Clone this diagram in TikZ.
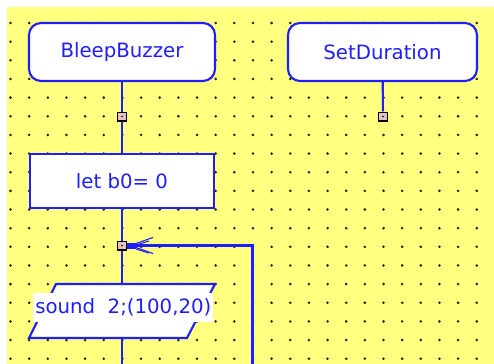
\documentclass[tikz,border=0pt]{standalone}
\usepackage{fontspec}
\newfontfamily\chartfont{DejaVu Sans}
\definecolor{sheet}{RGB}{255,255,128}
\definecolor{grain}{RGB}{30,30,28}
\definecolor{ink}{RGB}{30,30,255}
\definecolor{pin}{RGB}{232,192,192}
\pgfdeclarelayer{bg}
\pgfdeclarelayer{wires}
\pgfsetlayers{bg,wires,main}
\tikzset{
  box/.style={draw=ink, line width=1.6pt, fill=white, text=ink, inner sep=0pt,
    font=\chartfont\fontsize{14.8}{16}\selectfont},
  kstart/.style={box, rounded corners=9pt, minimum width=139.5pt, minimum height=43.5pt},
  kaction/.style={box, minimum width=138pt, minimum height=40.5pt},
  kio/.style={draw=ink, line width=1.6pt, fill=white},
  klabel/.style={fill=white, text=ink, inner xsep=1.5pt, inner ysep=0pt, minimum height=21.75pt,
    font=\chartfont\fontsize{14.8}{16}\selectfont},
  kjoin/.style={draw=black, line width=1pt, fill=pin, minimum size=6.5pt, inner sep=0pt,
    path picture={\fill[black] (path picture bounding box.center) circle (0.6pt);}},
  wire/.style={draw=ink, line width=1.6pt},
  feather/.style={draw=ink, line width=0.8pt},
}

\begin{document}
\begin{tikzpicture}[x=0.75pt, y=-0.75pt]
  \useasboundingbox (0,0) rectangle (494,364);
  \begin{pgfonlayer}{bg}
    \fill[sheet] (7,7) rectangle (494,364);
    \foreach \i in {0,...,25}
      \foreach \j in {0,...,18}
        \fill[grain] ({10.5+18.65*\i},{23+18.65*\j}) circle (1.4);
  \end{pgfonlayer}

  \node[kstart] (bleep) at (122,52) {BleepBuzzer};
  \node[kstart, minimum width=141.75pt] (setdur) at (382.5,52) {SetDuration};
  \node[kjoin] (j1) at (122,116.5) {};
  \node[kjoin] (j2) at (383,116.5) {};
  \node[kaction] (letb) at (122,181) {let b0= 0};
  \node[kjoin] (j3) at (122,245.5) {};

  % sound output block
  \draw[kio] (56,284) -- (215,284) -- (187,338) -- (29,338) -- cycle;
  \coordinate (soundin) at (122,284);
  \coordinate (soundout) at (122,338);
  \node[klabel, anchor=west] (soundtxt) at (33,307.5) {sound\ \ 2;(100,20)};
  \coordinate (down) at (122,364);
  \coordinate (back) at (252.5,364);

  \begin{pgfonlayer}{wires}
    \draw[wire] (bleep) -- (j1) -- (letb);
    \draw[wire] (setdur) -- (j2);
    \draw[wire] (letb) -- (j3) -- (soundin);
    \draw[wire] (soundout) -- (down);
    \draw[wire] (back) |- (j3);
  \end{pgfonlayer}

  \fill[ink] ([shift={(0,-2.5)}]j3.east) rectangle ++(9,5.5);
  \draw[feather] ([shift={(9,-2)}]j3.east) -- ++(17,-6);
  \draw[feather] ([shift={(9,-0.5)}]j3.east) -- ++(13,-4);
  \draw[feather] ([shift={(9,2)}]j3.east) -- ++(17,6);
  \draw[feather] ([shift={(9,3.5)}]j3.east) -- ++(13,4);
\end{tikzpicture}
\end{document}
